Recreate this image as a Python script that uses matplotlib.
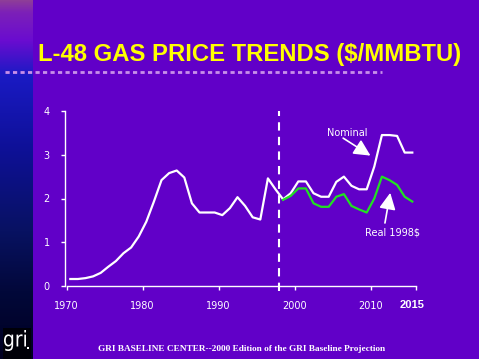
import numpy as np
import matplotlib
matplotlib.use("Agg")
import matplotlib.pyplot as plt
import matplotlib.colors as mcolors
from matplotlib.lines import Line2D
from matplotlib.textpath import TextPath
from matplotlib.patches import PathPatch, Rectangle
from matplotlib.font_manager import FontProperties
from matplotlib.transforms import Affine2D, IdentityTransform

# ---- data ----
years_nominal = list(range(1970, 2016))
nominal = [0.16, 0.16, 0.18, 0.22, 0.30, 0.44, 0.57, 0.75, 0.88, 1.13,
           1.47, 1.93, 2.42, 2.58, 2.64, 2.48, 1.89, 1.68, 1.68, 1.68,
           1.62, 1.78, 2.03, 1.83, 1.57, 1.52, 2.46, 2.21, 1.98, 2.12,
           2.39, 2.39, 2.12, 2.04, 2.04, 2.38, 2.50, 2.29, 2.21, 2.21,
           2.73, 3.45, 3.45, 3.43, 3.05, 3.05]
years_real = list(range(1998, 2016))
real = [1.97, 2.06, 2.23, 2.23, 1.89, 1.81, 1.81, 2.04, 2.10, 1.83,
        1.75, 1.68, 2.00, 2.50, 2.42, 2.31, 2.04, 1.93]
x_tick_years = [1970, 1980, 1990, 2000, 2010]
y_ticks = [0, 1, 2, 3, 4]
projection_start = 1998
last_label = "2015"

BG = "#6100C8"
W, H = 479, 359
fig = plt.figure(figsize=(W / 100, H / 100), dpi=100, facecolor=BG)

# left gradient strip
strip = fig.add_axes([0, 0, 33 / W, 1])
stops_y = [0, 12, 40, 75, 150, 230, 290, 359]
stops_c = ["#8E3E98", "#7C20B8", "#6A0CD0", "#1A1AC4", "#0E1096", "#081262", "#02083A", "#000020"]
rgb = np.array([mcolors.to_rgb(c) for c in stops_c])
yy = np.arange(H)
grad = np.stack([np.interp(yy, stops_y, rgb[:, k]) for k in range(3)], axis=1)
strip.imshow(grad[:, None, :], aspect="auto", extent=[0, 1, H, 0])
strip.set_xlim(0, 1); strip.set_ylim(H, 0)
strip.axis("off")

# logo block (display pixels, origin bottom-left)
fig.add_artist(Rectangle((3, 0), 28, 31, facecolor="#000008", edgecolor="none",
                         transform=IdentityTransform()))
tp = TextPath((0, 0), "gri", size=10, prop=FontProperties(family="DejaVu Sans"))
bb = tp.get_extents()
tr = Affine2D().translate(-bb.x0, -bb.y0).scale(22 / bb.width, 21 / bb.height).translate(4, H - 351)
fig.add_artist(PathPatch(tr.transform_path(tp), facecolor="white", edgecolor="none",
                         transform=IdentityTransform()))
fig.add_artist(Rectangle((27, H - 349), 2, 2, facecolor="white", edgecolor="none",
                         transform=IdentityTransform()))

# title
fig.text(249.5 / W, 1 - 55 / H, "L-48 GAS PRICE TRENDS ($/MMBTU)", color="#FFFF00",
         fontsize=17.2, fontweight="bold", family="Liberation Sans", ha="center", va="center")
fig.add_artist(Line2D([5 / W, 382 / W], [1 - 71.5 / H, 1 - 71.5 / H], color="#C890E8",
                      lw=2, linestyle=(0, (1.5, 1.2)), transform=fig.transFigure))

# main axes
ax = fig.add_axes([66.5 / W, 1 - 286 / H, 349.6 / W, 175 / H])
ax.set_facecolor(BG)
ax.set_xlim(1970, 2016)
ax.set_ylim(0, 4)
for side in ["top", "right"]:
    ax.spines[side].set_visible(False)
for side in ["left", "bottom"]:
    ax.spines[side].set_color("white")
    ax.spines[side].set_linewidth(1)
ax.spines["left"].set_position(("outward", 1))

xn = np.array(years_nominal) + 0.5
xr = np.array(years_real) + 0.5
ax.plot(xn, nominal, color="white", lw=1.6)
ax.plot(xr, real, color="#22E022", lw=1.6)
ax.axvline(projection_start, color="white", lw=1.5, linestyle=(0, (4, 3)), ymin=-0.03, ymax=1.0,
           clip_on=False)

ax.set_xticks(x_tick_years + [2016])
ax.set_xticklabels([str(y) for y in x_tick_years] + [""])
ax.set_yticks(y_ticks)
ax.set_yticklabels([str(v) for v in y_ticks])
ax.tick_params(axis="both", colors="white", labelcolor="white", labelsize=7, length=3, width=1)
ax.tick_params(axis="x", pad=8)
ax.tick_params(axis="y", pad=8)
ax.text(2015.5, -0.44, last_label, color="white", fontsize=8, fontweight="bold",
        ha="center", va="center", family="Liberation Sans")

# annotations
arrow = dict(arrowstyle="-|>,head_length=1.0,head_width=0.5", color="white", lw=1.2,
             shrinkA=0, shrinkB=0)
ax.annotate("", xy=(2010.0, 2.98), xytext=(2006.4, 3.38), arrowprops=arrow)
ax.text(2006.9, 3.50, "Nominal", color="white", fontsize=7, ha="center", va="center")
ax.annotate("", xy=(2012.6, 2.13), xytext=(2011.9, 1.44), arrowprops=arrow)
ax.text(2012.9, 1.22, "Real 1998$", color="white", fontsize=7, ha="center", va="center")

# footer
fig.text(242 / W, 1 - 349 / H, "GRI BASELINE CENTER--2000 Edition of the GRI Baseline Projection",
         color="white", fontsize=6.7, fontweight="bold", family="Liberation Serif",
         ha="center", va="center")

fig.savefig("out.png", dpi=100, facecolor=BG)
